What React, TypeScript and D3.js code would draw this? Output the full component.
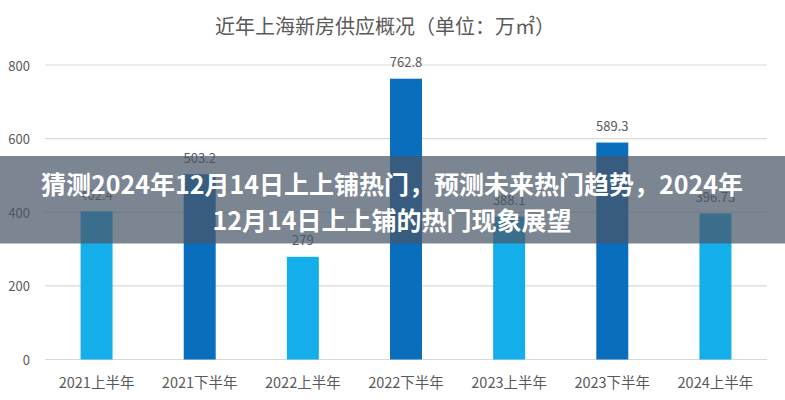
import React from "react";
import * as d3 from "d3";

const categories = ["2021上半年", "2021下半年", "2022上半年", "2022下半年", "2023上半年", "2023下半年", "2024上半年"];
const values = [402.4, 503.2, 279, 762.8, 388.1, 589.3, 396.73];
const valueLabels = ["402.4", "503.2", "279", "762.8", "388.1", "589.3", "396.73"];
const yTicks = [0, 200, 400, 600, 800];
const title = "近年上海新房供应概况（单位：万㎡）";
const overlayLines = ["猜测2024年12月14日上上铺热门，预测未来热门趋势，2024年", "12月14日上上铺的热门现象展望"];

const W = 785;
const H = 400;
const FONT = "'Noto Sans CJK SC', 'Noto Sans', sans-serif";

export default function App() {
  const x = d3.scaleBand<string>().domain(categories).range([45, 767]).paddingInner(0.69).paddingOuter(0.345);
  const y = d3.scaleLinear().domain([0, 800]).range([359.5, 65]);
  const light = "#14aeea";
  const dark = "#0a6ebe";
  return (
    <svg width={W} height={H} style={{ position: "absolute", left: 0, top: 0, background: "#fff" }} fontFamily={FONT}>
      <rect x={0} y={0} width={W} height={H} fill="#fff" />
      <text x={385} y={25} textAnchor="middle" dominantBaseline="central" fontSize={20} fill="#5a5a5a">{title}</text>
      {yTicks.map((t) => (
        <g key={t}>
          <line x1={45} x2={767} y1={y(t)} y2={y(t)} stroke="#d9d9d9" strokeWidth={1.2} />
          <text x={30} y={y(t)} textAnchor="end" dominantBaseline="central" fontSize={13} fill="#595959">{t}</text>
        </g>
      ))}
      {categories.map((c, i) => (
        <g key={c}>
          <rect x={x(c)} y={y(values[i])} width={x.bandwidth()} height={y(0) - y(values[i])} fill={i % 2 === 0 ? light : dark} />
          <text x={(x(c) as number) + x.bandwidth() / 2} y={y(values[i]) - 17} textAnchor="middle" dominantBaseline="central" fontSize={13} fill="#595959">{valueLabels[i]}</text>
          <text x={(x(c) as number) + x.bandwidth() / 2} y={381} textAnchor="middle" dominantBaseline="central" fontSize={14.5} fill="#595959">{c}</text>
        </g>
      ))}
      <rect x={0} y={156} width={W} height={87.5} fill="#4a5668" opacity={0.72} />
      {overlayLines.map((l, i) => (
        <text key={i} x={392} y={183 + i * 36} textAnchor="middle" dominantBaseline="central" fontSize={25} fontWeight={700} fill="#fff">{l}</text>
      ))}
    </svg>
  );
}
